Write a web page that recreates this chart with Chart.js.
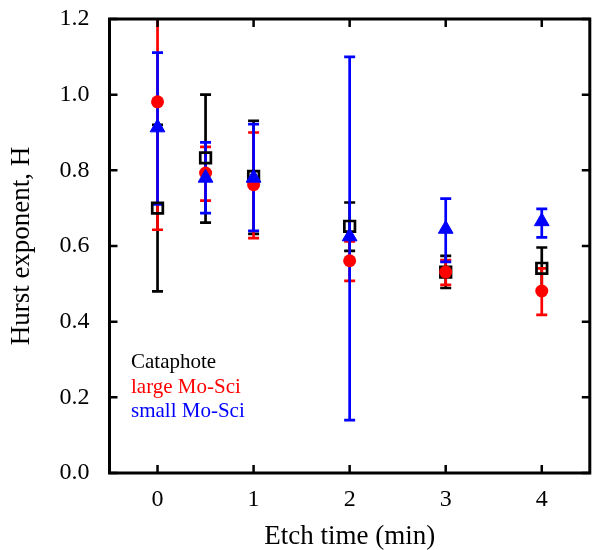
<!DOCTYPE html>
<html>
<head>
<meta charset="utf-8">
<script src="https://cdn.jsdelivr.net/npm/chart.js@4.4.1/dist/chart.umd.min.js"></script>
<style>
  html, body { margin: 0; padding: 0; background: #fff; overflow: hidden; }
  #wrap { width: 600px; height: 550px; position: relative; }
  canvas { display: block; }
</style>
</head>
<body>
<div id="wrap"><canvas id="myChart"></canvas></div>
<script>
// etch times (min)
var times = [0, 0.5, 1, 2, 3, 4];

// Cataphote
var cataH    = [0.700, 0.833, 0.784, 0.652, 0.531, 0.541];
var cataLow  = [0.480, 0.662, 0.632, 0.587, 0.489, 0.486];
var cataHigh = [0.920, 1.000, 0.931, 0.715, 0.574, 0.596];

// large Mo-Sci
var largeH    = [0.981, 0.793, 0.762, 0.561, 0.531, 0.481];
var largeLow  = [0.643, 0.720, 0.621, 0.508, 0.497, 0.418];
var largeHigh = [1.320, 0.862, 0.900, 0.612, 0.563, 0.541];

// small Mo-Sci
var smallH    = [0.913, 0.780, 0.780, 0.625, 0.645, 0.665];
var smallLow  = [0.710, 0.687, 0.640, 0.140, 0.558, 0.623];
var smallHigh = [1.111, 0.874, 0.922, 1.100, 0.725, 0.698];

var xTicks = [0, 1, 2, 3, 4];
var yTicks = [0, 0.2, 0.4, 0.6, 0.8, 1.0, 1.2];

var FONT = "'Liberation Serif', 'Times New Roman', serif";

function pts(ys, lo, hi) {
    var out = [];
    for (var i = 0; i < times.length; i++) {
        out.push({ x: times[i], y: ys[i], lo: lo[i], hi: hi[i] });
    }
    return out;
}

// error bars, drawn under the markers
var errorBars = {
    id: 'errorBars',
    beforeDatasetsDraw: function(chart) {
        var ctx = chart.ctx, xs = chart.scales.x, ys = chart.scales.y, a = chart.chartArea;
        ctx.save();
        ctx.beginPath();
        ctx.rect(a.left, a.top, a.right - a.left, a.bottom - a.top);
        ctx.clip();
        chart.data.datasets.slice().reverse().forEach(function(ds) {
            ctx.strokeStyle = ds.borderColor;
            ctx.lineWidth = 2.7;
            ds.data.forEach(function(p) {
                var px = xs.getPixelForValue(p.x);
                var top = ys.getPixelForValue(p.hi);
                var bot = ys.getPixelForValue(p.lo);
                ctx.beginPath();
                ctx.moveTo(px, top); ctx.lineTo(px, bot);
                ctx.moveTo(px - 5.5, top); ctx.lineTo(px + 5.5, top);
                ctx.moveTo(px - 5.5, bot); ctx.lineTo(px + 5.5, bot);
                ctx.stroke();
            });
        });
        ctx.restore();
    }
};

// box frame with inward ticks on all four sides, plus text legend
var frame = {
    id: 'frame',
    afterDraw: function(chart) {
        var ctx = chart.ctx, xs = chart.scales.x, ys = chart.scales.y, a = chart.chartArea;
        ctx.save();
        ctx.strokeStyle = '#000';
        ctx.lineWidth = 3;
        ctx.strokeRect(a.left, a.top, a.right - a.left, a.bottom - a.top);
        ctx.lineWidth = 2.5;
        ctx.beginPath();
        xTicks.forEach(function(v) {
            var px = xs.getPixelForValue(v);
            ctx.moveTo(px, a.bottom); ctx.lineTo(px, a.bottom - 8);
            ctx.moveTo(px, a.top); ctx.lineTo(px, a.top + 8);
        });
        yTicks.forEach(function(v) {
            var py = ys.getPixelForValue(v);
            ctx.moveTo(a.left, py); ctx.lineTo(a.left + 8, py);
            ctx.moveTo(a.right, py); ctx.lineTo(a.right - 8, py);
        });
        ctx.stroke();

        ctx.font = '21px ' + FONT;
        ctx.textAlign = 'left';
        ctx.textBaseline = 'alphabetic';
        var names = ['Cataphote', 'large Mo-Sci', 'small Mo-Sci'];
        var cols = ['#000000', '#ff0000', '#0000ff'];
        for (var i = 0; i < names.length; i++) {
            ctx.fillStyle = cols[i];
            ctx.fillText(names[i], 131, 368 + i * 24.5);
        }
        ctx.restore();
    }
};

new Chart(document.getElementById('myChart'), {
    type: 'scatter',
    data: {
        datasets: [
            {
                label: 'small Mo-Sci',
                data: pts(smallH, smallLow, smallHigh),
                borderColor: '#0000ff',
                backgroundColor: '#0000ff',
                pointStyle: 'triangle',
                pointRadius: 8.5,
                borderWidth: 1
            },
            {
                label: 'large Mo-Sci',
                data: pts(largeH, largeLow, largeHigh),
                borderColor: '#ff0000',
                backgroundColor: '#ff0000',
                pointStyle: 'circle',
                pointRadius: 6.5,
                borderWidth: 0
            },
            {
                label: 'Cataphote',
                data: pts(cataH, cataLow, cataHigh),
                borderColor: '#000000',
                backgroundColor: 'rgba(255,255,255,0)',
                pointStyle: 'rect',
                pointRadius: 7.5,
                borderWidth: 2.7
            }
        ]
    },
    options: {
        responsive: true,
        maintainAspectRatio: false,
        animation: false,
        layout: { padding: { top: 19, right: 5.5, left: 0, bottom: 0 } },
        plugins: {
            legend: { display: false },
            tooltip: { enabled: false }
        },
        scales: {
            x: {
                type: 'linear',
                min: -0.5,
                max: 4.5,
                afterFit: function(s) {
                    s.height = 77;
                    s.paddingLeft = 0;
                    s.paddingRight = 0;
                },
                afterBuildTicks: function(s) { s.ticks = xTicks.map(function(v) { return { value: v }; }); },
                grid: { display: false, drawTicks: false },
                border: { display: false },
                ticks: {
                    color: '#000',
                    padding: 12,
                    maxRotation: 0,
                    font: { family: FONT, size: 24 },
                    callback: function(v) { return String(v); }
                },
                title: {
                    display: true,
                    text: 'Etch time (min)',
                    color: '#000',
                    font: { family: FONT, size: 27 },
                    padding: { top: 0, bottom: -3 }
                }
            },
            y: {
                min: 0,
                max: 1.2,
                afterFit: function(s) {
                    s.width = 109.5;
                    s.paddingTop = 0;
                    s.paddingBottom = 0;
                    s.paddingLeft = 0;
                    s.paddingRight = 0;
                },
                afterBuildTicks: function(s) { s.ticks = yTicks.map(function(v) { return { value: v }; }); },
                grid: { display: false, drawTicks: false },
                border: { display: false },
                ticks: {
                    color: '#000',
                    padding: 20,
                    font: { family: FONT, size: 24 },
                    callback: function(v) { return v.toFixed(1); }
                },
                title: {
                    display: true,
                    text: 'Hurst exponent, H',
                    color: '#000',
                    font: { family: FONT, size: 27 },
                    padding: { top: 6, bottom: 0 }
                }
            }
        }
    },
    plugins: [errorBars, frame]
});
</script>
</body>
</html>
